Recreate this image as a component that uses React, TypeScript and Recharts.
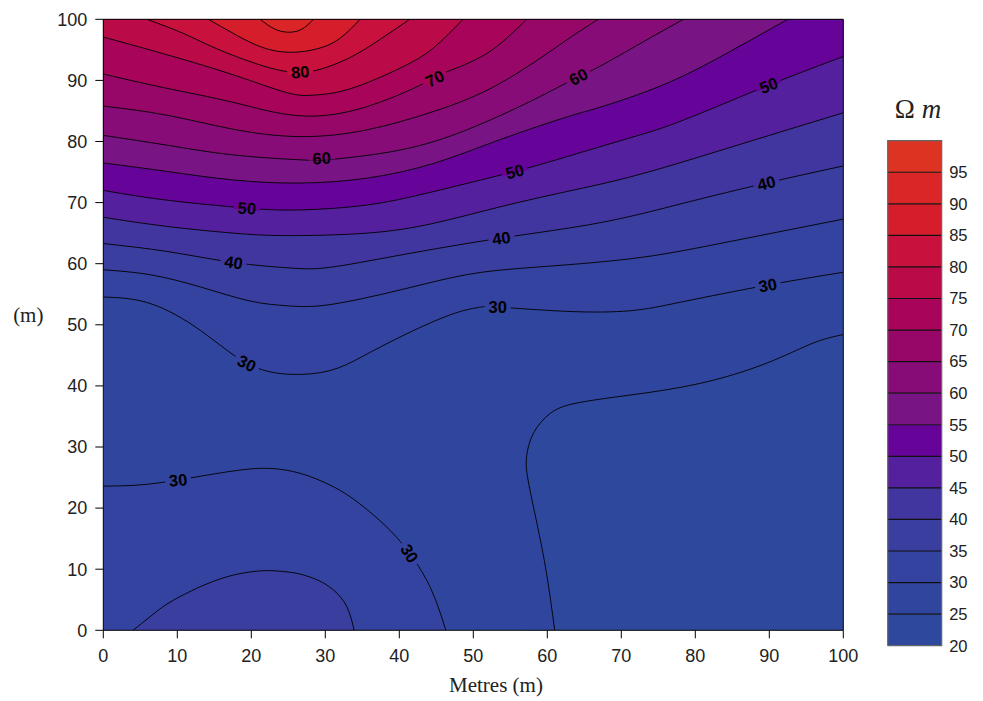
import React from "react";
import { ComposedChart, Area, Line, Scatter, XAxis, YAxis } from "recharts";

type Pt = { x: number; y: number };

const SANS = "'Liberation Sans', Arial, Helvetica, sans-serif";
const SERIF = "'Liberation Serif', 'Times New Roman', Times, serif";

// colour scale: one band per 5 ohm.m, from 20 to 100
const bandEdges = [20, 25, 30, 35, 40, 45, 50, 55, 60, 65, 70, 75, 80, 85, 90, 95, 100];
const bandColors = [
  "#2e489e", "#30469e", "#34439f", "#393e9f", "#41369f", "#55209e", "#660399", "#791484",
  "#870c78", "#960768", "#a7045a", "#ba0a48", "#c8113d", "#d61d2c", "#da2627", "#dc3322",
];
const barTicks = [20, 25, 30, 35, 40, 45, 50, 55, 60, 65, 70, 75, 80, 85, 90, 95];
const axisTicks = [0, 10, 20, 30, 40, 50, 60, 70, 80, 90, 100];

const toPts = (rows: number[][]): Pt[] => rows.map(([x, y]) => ({ x, y }));

// contour lines, [metres along, metres up]
const c90 = toPts([[21.2, 100], [23, 98.5], [24.8, 97.9], [26.7, 98.3], [28.4, 100]]);
const c85 = toPts([[14.2, 100], [18, 97.4], [21.5, 95.4], [25.2, 94.6], [29, 95.2], [32, 96.9], [34.7, 100]]);
const c80 = toPts([[5.9, 100], [10.8, 97.7], [15.3, 95.2], [21, 92.6], [25.2, 91.4], [28.6, 91.6], [32, 93.0], [35.6, 95.3], [41.4, 100]]);
const c75 = toPts([[0, 97.1], [8.6, 94.2], [17.6, 90.9], [24.8, 88.0], [28.5, 87.6], [33.3, 88.6], [40.1, 92.0], [44.6, 95.3], [48.6, 100]]);
const c70 = toPts([[0, 91.05], [8.6, 88.7], [17.6, 86.4], [26.6, 84.2], [35.6, 85.7], [43.3, 89.5], [46.4, 91.4], [51.8, 94.4], [57.2, 100]]);
const c65 = toPts([[0, 85.8], [8.6, 84.3], [17.6, 82.0], [26.6, 80.8], [35.6, 81.9], [44.6, 84.9], [53.6, 89.5], [62.6, 96.6], [66.9, 100]]);
const c60 = toPts([[0, 81.0], [8.6, 79.4], [17.6, 77.8], [26.6, 77.0], [31.1, 77.1], [40.1, 78.6], [49.1, 81.9], [58.1, 86.8], [64.2, 90.6], [67.1, 92.3], [72.8, 96.2], [78.4, 100]]);
const c55 = toPts([[0, 76.5], [8.6, 75.1], [17.6, 73.7], [26.6, 73.2], [35.6, 74.0], [44.6, 76.4], [53.6, 80.3], [62.6, 84.0], [67.1, 85.6], [76.1, 89.5], [85.1, 95.0], [92.5, 100]]);
const c50 = toPts([[0, 72.0], [8.6, 70.4], [19.4, 69.1], [26.6, 68.8], [35.6, 69.6], [44.6, 71.8], [55.6, 75.1], [62.6, 77.5], [71.2, 80.6], [78.4, 83.5], [89.9, 89.2], [100, 93.9]]);
const c45 = toPts([[0, 67.6], [8.6, 66.1], [17.6, 65.0], [24.8, 64.6], [35.6, 65.0], [44.6, 66.6], [53.6, 69.3], [62.6, 71.8], [71.2, 74.2], [80.6, 77.5], [90, 81.0], [100, 84.7]]);
const c40 = toPts([[0, 63.3], [8.6, 62.0], [17.6, 60.2], [25.2, 59.3], [30.6, 59.4], [40.1, 61.4], [53.8, 64.2], [67.1, 66.7], [78.4, 69.9], [89.6, 73.2], [100, 76.0]]);
const c35 = toPts([[0, 59.0], [6.3, 58.2], [13.1, 56.2], [19.8, 53.9], [25, 53.1], [30.6, 53.3], [40.1, 55.7], [49.1, 58.2], [58.1, 59.4], [71.2, 60.8], [83.3, 63.3], [100, 67.3]]);
const c30top = toPts([[0, 54.55], [6.3, 53.5], [13.1, 49.1], [19.4, 43.7], [25.2, 41.9], [30.6, 42.5], [35, 44.8], [40.1, 48.0], [46.8, 51.6], [50.5, 52.8], [53.3, 52.9], [62.6, 52.2], [71.2, 52.3], [78.4, 53.8], [89.8, 56.5], [100, 58.6]]);
const c30bottom = toPts([[0, 23.6], [5, 23.8], [10.1, 24.6], [15, 25.6], [19, 26.3], [22.5, 26.5], [26.6, 25.7], [30.6, 23.8], [33.3, 21.9], [36, 19.4], [38.8, 16.3], [41.4, 12.6], [43.7, 8.2], [45.2, 4], [46.3, 0]]);
const c35bottom = toPts([[4, 0], [6.3, 2.2], [8.6, 4.3], [11.3, 6.1], [14, 7.6], [17.6, 9.05], [21.6, 9.75], [24.5, 9.6], [26.6, 9.2], [29, 8.2], [31.1, 6.6], [32.9, 3.9], [33.9, 0]]);
// the 25 line turns back on itself, so keep its two branches apart
const c25low = toPts([[57.2, 28.4], [57.4, 24.6], [58.6, 17.5], [59.9, 9.3], [61, 0]]);
const c25up = toPts([[57.2, 28.4], [58.1, 32.2], [60.4, 35.5], [64, 37.2], [71.2, 38.5], [80.6, 40.4], [89.6, 43.7], [95.9, 47.0], [100, 48.4]]);

const labels = [
  { x: 26.6, y: 91.4, level: 80 }, { x: 44.8, y: 90.3, level: 70 }, { x: 64.2, y: 90.6, level: 60 },
  { x: 89.9, y: 89.2, level: 50 }, { x: 29.5, y: 77.3, level: 60 }, { x: 55.6, y: 75.1, level: 50 },
  { x: 89.6, y: 73.2, level: 40 }, { x: 19.4, y: 69.1, level: 50 }, { x: 17.6, y: 60.2, level: 40 },
  { x: 53.8, y: 64.2, level: 40 }, { x: 19.4, y: 43.7, level: 30 }, { x: 53.3, y: 52.9, level: 30 },
  { x: 89.8, y: 56.5, level: 30 }, { x: 10.1, y: 24.6, level: 30 }, { x: 41.4, y: 12.6, level: 30 },
];
const labelAngles = [-4, -27, -28, -21, -3, -15, -14, 4, 8, -9, 26, 0, -10, -6, 58];

const band = (level: number) => bandColors[bandEdges.indexOf(level)];

const upper: [Pt[], number][] = [
  [c30top, 30], [c35, 35], [c40, 40], [c45, 45], [c50, 50], [c55, 55], [c60, 60],
  [c65, 65], [c70, 70], [c75, 75], [c80, 80], [c85, 85], [c90, 90],
];

const fills = [
  { pts: toPts([[0, 100], [100, 100]]), color: band(25), below: true },
  { pts: c25up, color: band(20), below: true },
  { pts: c25low, color: band(25), below: true },
  { pts: c30bottom, color: band(30), below: true },
  { pts: c35bottom, color: band(35), below: true },
  ...upper.map(([pts, lv]) => ({ pts, color: band(lv), below: false })),
];

const lines: Pt[][] = [
  [...c25low].reverse().concat(c25up.slice(1)),
  c30bottom,
  c35bottom,
  ...upper.map(([pts]) => pts),
];

const labelMarks = labels.map((l, i) => ({ ...l, angle: labelAngles[i] }));

// colour bar pieces
const barBands = bandColors.map((color, i) => ({
  color,
  pts: [{ x: 0, lo: bandEdges[i], hi: bandEdges[i + 1] }, { x: 1, lo: bandEdges[i], hi: bandEdges[i + 1] }],
}));

// eslint-disable-next-line @typescript-eslint/no-explicit-any
const ContourLabel = (props: any) => {
  const { cx, cy, payload } = props;
  if (cx == null || cy == null) return null;
  return (
    <g transform={`translate(${cx},${cy}) rotate(${payload.angle})`}>
      <rect x={-13} y={-2} width={26} height={4} fill={band(payload.level)} />
      <text textAnchor="middle" dy="0.36em" fontSize={16.5} fontWeight="bold" fontFamily={SANS} fill="#000">
        {payload.level}
      </text>
    </g>
  );
};

const tickStyle = { fill: "#222", fontSize: 18, fontFamily: SANS };

export default function App() {
  return (
    <div style={{ position: "absolute", left: 0, top: 0, width: 983, height: 701, background: "#fff" }}>
      <ComposedChart width={870} height={701} margin={{ top: 11.3, right: 18.7, bottom: 40.7, left: 0 }}>
        <XAxis
          dataKey="x" type="number" domain={[0, 100]} ticks={axisTicks} interval={0} allowDataOverflow
          height={30} tickSize={8} tickMargin={11} stroke="#000" tick={tickStyle}
        />
        <XAxis
          xAxisId="top" orientation="top" dataKey="x" type="number" domain={[0, 100]} ticks={axisTicks}
          interval={0} height={8} tickSize={7} tick={false} stroke="#000"
        />
        <YAxis
          type="number" domain={[0, 100]} ticks={axisTicks} interval={0} allowDataOverflow
          width={103.3} tickSize={8} tickMargin={8} stroke="#000" tick={tickStyle}
        />
        <YAxis
          yAxisId="right" orientation="right" type="number" domain={[0, 100]} ticks={axisTicks}
          interval={0} width={8} tickSize={8} tick={false} stroke="#000"
        />
        {fills.map((f, i) => (
          <Area
            key={`fill-${i}`}
            data={f.pts}
            dataKey={f.below ? (d: Pt) => [0, d.y] : (d: Pt) => [d.y, 100]}
            type="natural"
            stroke="none"
            fill={f.color}
            fillOpacity={1}
            activeDot={false}
            isAnimationActive={false}
          />
        ))}
        {lines.map((pts, i) => (
          <Line
            key={`line-${i}`}
            data={pts}
            dataKey="y"
            type="natural"
            stroke="#000"
            strokeWidth={0.9}
            dot={false}
            activeDot={false}
            isAnimationActive={false}
          />
        ))}
        <Scatter data={labelMarks} dataKey="y" shape={ContourLabel} isAnimationActive={false} />
      </ComposedChart>

      <div style={{ position: "absolute", left: 880, top: 130 }}>
        <ComposedChart width={100} height={530} margin={{ top: 10.7, right: 0, bottom: 14.3, left: 7.7 }}>
          <XAxis dataKey="x" type="number" domain={[0, 1]} hide />
          <YAxis
            orientation="right" type="number" domain={[20, 100]} ticks={barTicks} interval={0}
            width={38.3} axisLine={false} tickLine={false} tickSize={0} tickMargin={7.5}
            tick={{ fill: "#222", fontSize: 16.5, fontFamily: SANS }}
          />
          {barBands.map((b, i) => (
            <Area
              key={`cb-${i}`}
              data={b.pts}
              dataKey={(d: { lo: number; hi: number }) => [d.lo, d.hi]}
              type="linear"
              fill={b.color}
              fillOpacity={1}
              stroke="none"
              activeDot={false}
              isAnimationActive={false}
            />
          ))}
          {barTicks.slice(1).map((lv) => (
            <Line
              key={`cbl-${lv}`}
              data={[{ x: 0, y: lv }, { x: 1, y: lv }]}
              dataKey="y"
              type="linear"
              stroke="#111"
              strokeWidth={1.2}
              dot={false}
              activeDot={false}
              isAnimationActive={false}
            />
          ))}
          <Line
            data={[{ x: 0, y: 20 }, { x: 0, y: 100 }, { x: 1, y: 100 }, { x: 1, y: 20 }, { x: 0, y: 20 }]}
            dataKey="y"
            type="linear"
            stroke="#666"
            strokeWidth={1.2}
            dot={false}
            activeDot={false}
            isAnimationActive={false}
          />
        </ComposedChart>
      </div>

      <svg width={983} height={701} style={{ position: "absolute", left: 0, top: 0, pointerEvents: "none" }}>
        <text x={28.3} y={322} textAnchor="middle" fontFamily={SERIF} fontSize={21} fill="#222">(m)</text>
        <text x={496} y={692.3} textAnchor="middle" fontFamily={SERIF} fontSize={21} fill="#222">Metres (m)</text>
        <text x={918} y={118} textAnchor="middle" fontFamily={SERIF} fontSize={27} fill="#222">
          Ω <tspan fontStyle="italic">m</tspan>
        </text>
      </svg>
    </div>
  );
}
